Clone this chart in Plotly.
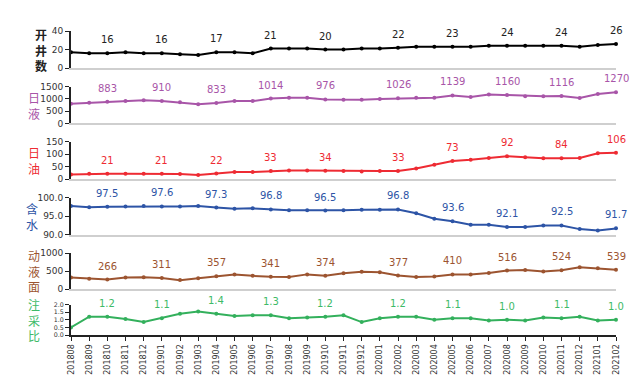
import plotly.graph_objects as go

months = ["201808","201809","201810","201811","201812",
          "201901","201902","201903","201904","201905","201906","201907","201908","201909","201910","201911","201912",
          "202001","202002","202003","202004","202005","202006","202007","202008","202009","202010","202011","202012",
          "202101","202102"]

wells = [17,16,16,17,16,16,15,14,17,17,16,21,21,21,20,20,21,21,22,23,23,23,23,24,24,24,24,24,23,25,26]
liquid = [800,840,883,910,940,910,860,780,833,910,910,1014,1050,1050,976,960,960,1000,1026,1050,1050,1139,1080,1180,1160,1110,1110,1116,1040,1200,1270]
oil = [18,21,21,21,21,21,20,16,22,28,28,33,35,35,34,33,31,33,33,43,58,73,78,85,92,88,84,84,85,104,106]
water = [97.7,97.4,97.5,97.6,97.7,97.6,97.6,97.7,97.3,97.0,97.1,96.8,96.6,96.6,96.5,96.6,96.7,96.7,96.8,95.8,94.3,93.6,92.7,92.7,92.1,92.1,92.5,92.5,91.5,91.1,91.7]
fluid_level = [320,290,266,320,330,311,250,300,357,410,370,341,340,410,374,440,480,470,377,340,350,410,410,450,516,530,490,524,610,580,539]
inj_ratio = [0.5,1.2,1.2,1.05,0.85,1.1,1.4,1.55,1.4,1.25,1.3,1.3,1.1,1.15,1.2,1.3,0.85,1.1,1.2,1.2,1.0,1.1,1.1,0.95,1.0,0.95,1.15,1.1,1.2,0.95,1.0]

label_idx = [2,5,8,11,14,18,21,24,27,30]

panels = [
    dict(name="<b>开<br>井<br>数</b>", y=wells, color="#000000", tcolor="#222222", rng=[0,40], dtick=20, fmt="d", dec=0, dom=[0.878,1.0], title_x=33, tfs=9),
    dict(name="日<br>液", y=liquid, color="#A855A8", tcolor="#A855A8", rng=[0,1500], dtick=500, fmt="d", dec=0, dom=[0.696,0.817], title_x=26, tfs=9),
    dict(name="日<br>油", y=oil, color="#EE2B33", tcolor="#EE2B33", rng=[0,150], dtick=50, fmt="d", dec=0, dom=[0.513,0.635], title_x=26, tfs=9),
    dict(name="含<br>水", y=water, color="#2D54A6", tcolor="#2D54A6", rng=[90,100], dtick=5, fmt=".1f", dec=1, dom=[0.330,0.452], title_x=24, tfs=9),
    dict(name="动<br>液<br>面", y=fluid_level, color="#9C5430", tcolor="#9C5430", rng=[0,1000], dtick=500, fmt="d", dec=0, dom=[0.151,0.269], title_x=26, tfs=9),
    dict(name="注<br>采<br>比", y=inj_ratio, color="#33B05C", tcolor="#3DBA68", rng=[0,2], dtick=0.5, fmt=".1f", dec=1, dom=[0.0,0.10], title_x=26, tfs=6.3),
]

fig = go.Figure()
xs = list(range(len(months)))
font_family = "DejaVu Sans, Verdana, sans-serif"

for i, p in enumerate(panels):
    n = i + 1
    xa = "x" if n == 1 else f"x{n}"
    ya = "y" if n == 1 else f"y{n}"
    fig.add_trace(go.Scatter(
        x=xs, y=p["y"], mode="lines+markers",
        line=dict(color=p["color"], width=2),
        marker=dict(color=p["color"], size=4),
        cliponaxis=False, showlegend=False, xaxis=xa, yaxis=ya))
    for k in label_idx:
        v = p["y"][k]
        fig.add_annotation(
            x=k, y=v, xref=xa, yref=ya, text=f"{v:.{p['dec']}f}",
            showarrow=False, yanchor="bottom", yshift=6,
            font=dict(color=p["tcolor"], size=10, family=font_family))
    last = (n == 6)
    xkey = "xaxis" if n == 1 else f"xaxis{n}"
    ykey = "yaxis" if n == 1 else f"yaxis{n}"
    fig.layout[xkey] = dict(
        domain=[0, 1], anchor=ya, range=[0, len(months) - 1],
        showgrid=False, zeroline=False, showline=True,
        linecolor="#222222" if last else "#CFCFCF", linewidth=2 if last else 1.5,
        tickmode="array", tickvals=xs, ticktext=months,
        showticklabels=last, ticks="outside" if last else "", ticklen=4, tickcolor="#222222",
        tickangle=-90, tickfont=dict(size=8, family=font_family, color="#333333"),
        fixedrange=True)
    fig.layout[ykey] = dict(
        domain=p["dom"], anchor=xa, range=p["rng"], dtick=p["dtick"], tick0=p["rng"][0],
        tickformat=p["fmt"], showgrid=False, zeroline=False, showline=True,
        linecolor="#222222", linewidth=2, ticks="outside", ticklen=4, tickcolor="#222222",
        tickfont=dict(size=p["tfs"], family=font_family, color="#333333"))
    fig.add_annotation(
        text=p["name"], xref="paper", x=(p["title_x"] - 63) / (608 - 63), xanchor="center",
        yref="paper", y=(p["dom"][0] + p["dom"][1]) / 2, yanchor="middle",
        showarrow=False, align="center",
        font=dict(size=12, color=p["tcolor"], family="Noto Sans CJK SC"))

fig.update_layout(
    width=643, height=379,
    margin=dict(l=63, r=35, t=23, b=44),
    plot_bgcolor="white", paper_bgcolor="white",
)

fig.write_html("out.html")
